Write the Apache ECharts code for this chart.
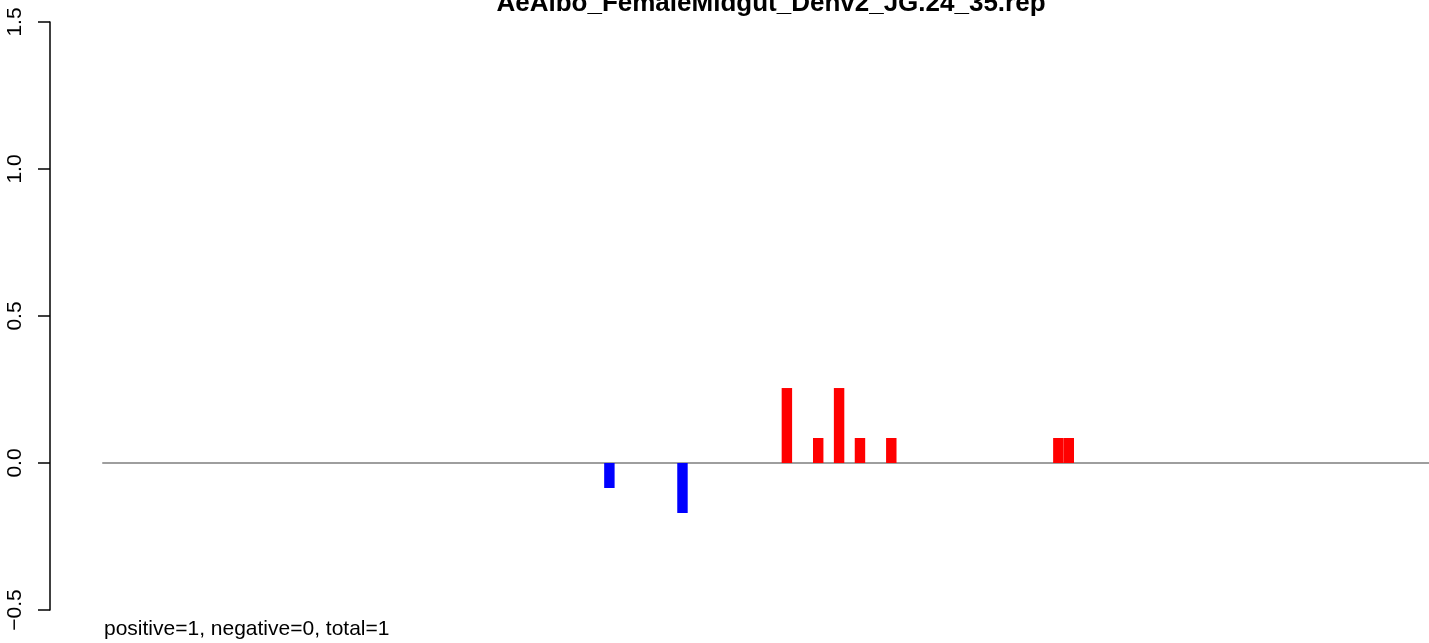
<!DOCTYPE html>
<html>
<head>
<meta charset="utf-8">
<script src="https://cdn.jsdelivr.net/npm/echarts@6/dist/echarts.min.js"></script>
<style>
  html, body { margin: 0; padding: 0; background: #fff; }
  #chart { width: 1429px; height: 643px; }
</style>
</head>
<body>
<div id="chart"></div>
<script>
// bins along the x axis, only the non-empty ones are listed
var binCount = 127;
var binIndex = [48, 55, 65, 68, 70, 72, 75, 91, 92];
var binValue = [-0.085, -0.17, 0.255, 0.085, 0.255, 0.085, 0.085, 0.085, 0.085];
var yTicks = [-0.5, 0, 0.5, 1.0, 1.5];

var chartTitle = "AeAlbo_FemaleMidgut_Denv2_JG.24_35.rep";
var footNote = "positive=1, negative=0, total=1";

var categories = [];
var values = [];
for (var i = 0; i < binCount; i++) {
    categories.push(String(i));
    values.push(0);
}
binIndex.forEach(function (b, k) {
    values[b] = binValue[k];
});

var chart = echarts.init(document.getElementById("chart"));
chart.setOption({
    animation: false,
    textStyle: { fontFamily: "Liberation Sans, Arial, sans-serif" },
    title: [{
        text: chartTitle,
        left: 766,
        top: -14,
        textAlign: "center",
        textStyle: { fontSize: 26, fontWeight: "bold", color: "#000" }
    }, {
        text: footNote,
        left: 99,
        top: 614,
        textStyle: { fontSize: 21, fontWeight: "normal", color: "#000" }
    }],
    grid: { left: 103, right: -4, top: 22, bottom: 33 },
    xAxis: {
        type: "category",
        data: categories,
        axisLine: { onZero: true, lineStyle: { color: "#9e9e9e", width: 2 } },
        axisTick: { show: false },
        axisLabel: { show: false },
        splitLine: { show: false }
    },
    yAxis: {
        type: "value",
        min: yTicks[0],
        max: yTicks[yTicks.length - 1],
        interval: 0.5,
        offset: 53,
        axisLine: { show: true, lineStyle: { color: "#000", width: 1.5 } },
        axisTick: { show: true, length: 12, lineStyle: { color: "#000", width: 1.5 } },
        axisLabel: {
            rotate: 90,
            margin: 24,
            fontSize: 21,
            color: "#000",
            formatter: function (v) {
                return v < 0 ? "\u2212" + Math.abs(v).toFixed(1) : v.toFixed(1);
            }
        },
        splitLine: { show: false }
    },
    series: [{
        type: "bar",
        data: values,
        barCategoryGap: 0,
        itemStyle: {
            color: function (p) { return p.value < 0 ? "#0000ff" : "#ff0000"; }
        }
    }]
});
</script>
</body>
</html>
